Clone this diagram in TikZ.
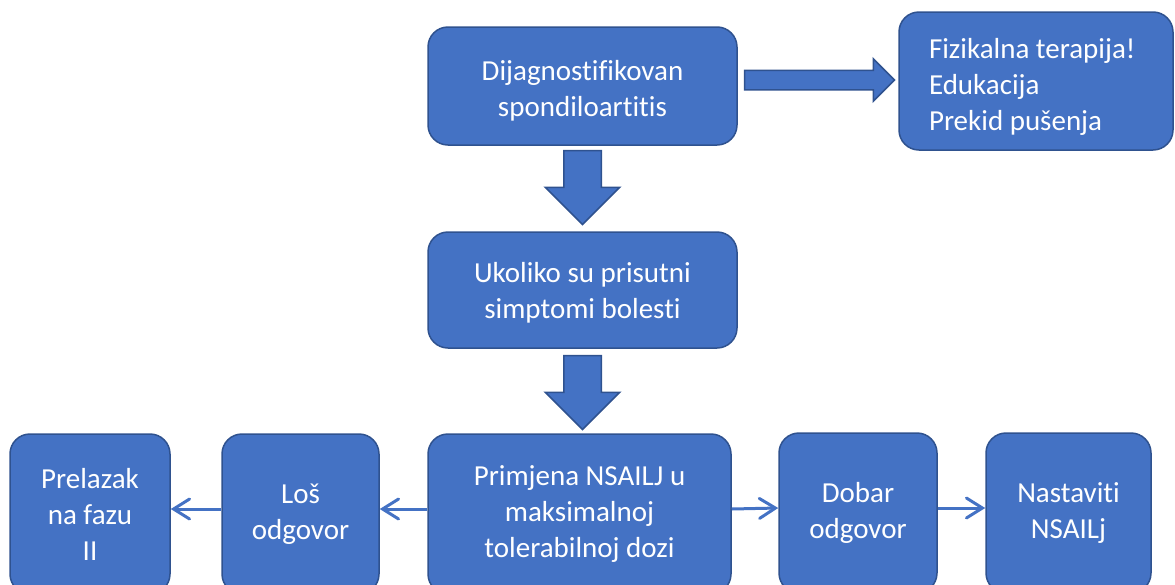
\documentclass[tikz,border=0pt]{standalone}
\usepackage{fontspec}
\setmainfont{Carlito}[Ligatures=CommonOff]
\usetikzlibrary{shapes.arrows,calc,arrows.meta}
\definecolor{boxblue}{HTML}{4472C4}
\definecolor{boxline}{HTML}{2F528F}

\begin{document}
\begin{tikzpicture}[x=1pt,y=-1pt]
        \tikzstyle{every node} = [font=\fontsize{29}{36}\selectfont, text=white]
        \tikzstyle{stage} = [rectangle, rounded corners=20pt, draw=boxline, fill=boxblue, line width=1.5pt, align=center, inner sep=0pt]
        \tikzstyle{bigarrow} = [single arrow, draw=boxline, fill=boxblue, line width=1.5pt, inner xsep=0pt, anchor=tail]
        \tikzstyle{response} = [draw=boxblue, line width=3pt, -{Straight Barb[length=16pt,width=20pt,line cap=round]}]
        \clip (0,0) rectangle (1175,584);
        % top row
        \node[stage, minimum width=309pt, minimum height=118pt] (diag) at (582.5,86) {\rule{0pt}{30pt}Dijagnostifikovan\\spondiloartitis};
        \node[stage, minimum width=274pt, minimum height=138pt, text width=214pt, inner xsep=30pt, align=flush left] (fiz) at (1036,81) {\rule{0pt}{32pt}Fizikalna terapija!\\Edukacija\\Prekid pušenja};
        % middle
        \node[stage, minimum width=309pt, minimum height=116pt] (ukol) at (582.5,290) {\rule{0pt}{26pt}Ukoliko su prisutni\\simptomi bolesti};
        % bottom row
        \node[stage, minimum width=303pt, minimum height=160pt] (prim) at (579.5,514) {Primjena NSAILJ u\\maksimalnoj\\tolerabilnoj dozi};
        \node[stage, minimum width=158pt, minimum height=160pt] (dobar) at (858,513) {Dobar\\odgovor};
        \node[stage, minimum width=165pt, minimum height=160pt] (nast) at (1068.5,513) {Nastaviti\\NSAILj};
        \node[stage, minimum width=157pt, minimum height=160pt] (los) at (300.5,514) {Loš\\odgovor};
        \node[stage, minimum width=160pt, minimum height=160pt] (prel) at (90,514) {Prelazak\\na fazu\\II};
        % block arrows
        \node[bigarrow, minimum height=150pt, inner ysep=9pt, single arrow head extend=11.5pt] (a1) at ($(diag.east)+(6,-6)$) {};
        \node[bigarrow, rotate=-90, minimum height=74pt, inner ysep=18pt, single arrow head extend=18.5pt] (a2) at ($(diag.south)+(0,4)$) {};
        \node[bigarrow, rotate=-90, minimum height=74pt, inner ysep=18pt, single arrow head extend=18.5pt] (a3) at ($(ukol.south)+(0,6)$) {};
        % thin arrows
        \foreach \from/\to in {prim.west/los.east, los.west/prel.east, prim.east/dobar.west, dobar.east/nast.west}
            \draw[response] ([yshift=5pt]\from) -- ([yshift=5pt]\to);
\end{tikzpicture}
\end{document}
